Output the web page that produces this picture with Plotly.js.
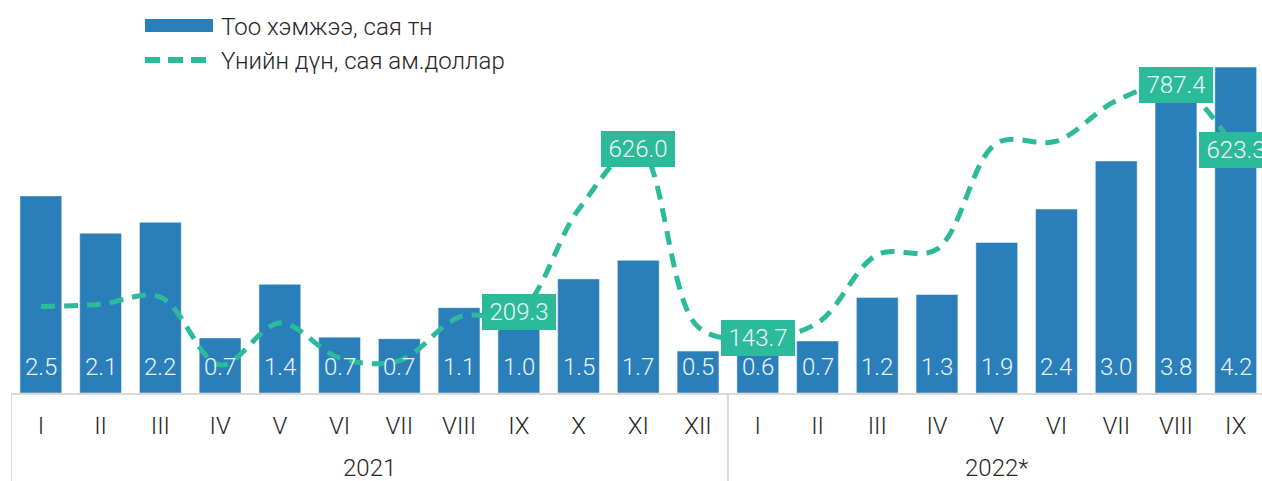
<!DOCTYPE html>
<html>
<head>
<meta charset="utf-8">
<script src="https://cdn.plot.ly/plotly-3.0.1.min.js"></script>
<style>html,body{margin:0;padding:0;background:#fff;}#chart{width:1262px;height:481px;}</style>
</head>
<body>
<div id="chart"></div>
<script>
// ---- data ----
const yearLabels = ['2021', '2022*'];
const months2021 = ['I','II','III','IV','V','VI','VII','VIII','IX','X','XI','XII'];
const months2022 = ['I','II','III','IV','V','VI','VII','VIII','IX'];
const volumeMt = [2.54, 2.06, 2.20, 0.71, 1.40, 0.72, 0.70, 1.10, 1.00, 1.47, 1.71, 0.54,
                  0.60, 0.67, 1.23, 1.27, 1.94, 2.37, 2.99, 3.80, 4.20];
const valueMusd = [224, 230, 248, 75, 182, 93, 86, 197, 209.3, 471, 626.0, 172,
                   143.7, 182, 356, 370, 640, 645, 748, 787.4, 623.3];
const labeledPoints = [8, 10, 12, 19, 20];
const seriesNames = ['Тоо хэмжээ, сая тн', 'Үнийн дүн, сая ам.доллар'];

// ---- build ----
const monthLabels = months2021.concat(months2022);
const xIdx = monthLabels.map((m, i) => i);
const groups = [months2021.length, months2022.length];

const BAR = '#2a7fba';
const LINE = '#2bbb9a';
const GRID = '#d9d9d9';
const TXT = '#262626';
const FONT = 'Roboto, "Open Sans", sans-serif';

const traces = [
  {
    type: 'bar', x: xIdx, y: volumeMt, name: seriesNames[0],
    marker: {color: BAR, line: {color: 'rgba(255,255,255,0.45)', width: 1}},
    hoverinfo: 'none', showlegend: false
  },
  {
    type: 'scatter', mode: 'lines', x: xIdx, y: valueMusd, yaxis: 'y2', name: seriesNames[1],
    line: {color: LINE, width: 5, dash: '14px,9px', shape: 'spline', smoothing: 1},
    hoverinfo: 'none', showlegend: false
  }
];

const annotations = [];
volumeMt.forEach((v, i) => {
  annotations.push({
    x: i, y: 0, xref: 'x', yref: 'y', yshift: 26, showarrow: false,
    text: v.toFixed(1), xanchor: 'center', yanchor: 'middle',
    font: {family: FONT, size: 24, color: '#eef4fa', weight: 300}
  });
});
labeledPoints.forEach(i => {
  annotations.push({
    x: i, y: valueMusd[i], xref: 'x', yref: 'y2', showarrow: false,
    text: valueMusd[i].toFixed(1), xanchor: 'center', yanchor: 'middle',
    bgcolor: LINE, borderpad: 0, borderwidth: 0, width: 74, height: 36,
    font: {family: FONT, size: 24, color: '#f4f4f4', weight: 300}
  });
});

// geometry helpers (plot area in pixels)
const L = 11, W = 1251, H = 393, B = 88;
const px = v => (v - L) / W, py = v => (H - v) / H;

// group dividers and year labels below the month labels
const shapes = [];
let start = 0;
groups.forEach((n, g) => {
  shapes.push({type: 'line', xref: 'x', yref: 'paper', x0: start - 0.5, x1: start - 0.5,
    y0: 0, y1: -B / H, line: {color: GRID, width: 2}});
  annotations.push({xref: 'x', yref: 'paper', x: start + (n - 1) / 2, y: py(468),
    xanchor: 'center', yanchor: 'middle', showarrow: false, text: yearLabels[g],
    font: {family: FONT, size: 24, color: TXT, weight: 300}});
  start += n;
});

// legend (custom, drawn in paper space)
shapes.push({type: 'rect', xref: 'paper', yref: 'paper', x0: px(145), x1: px(213), y0: py(32), y1: py(19),
   fillcolor: BAR, line: {width: 0}});
shapes.push({type: 'line', xref: 'paper', yref: 'paper', x0: px(145), x1: px(208), y0: py(60), y1: py(60),
   line: {color: LINE, width: 6, dash: '15px,8px'}});
annotations.push({xref: 'paper', yref: 'paper', x: px(219), y: py(27), xanchor: 'left', yanchor: 'middle',
  showarrow: false, text: seriesNames[0], font: {family: FONT, size: 24, color: TXT, weight: 300}});
annotations.push({xref: 'paper', yref: 'paper', x: px(219), y: py(61), xanchor: 'left', yanchor: 'middle',
  showarrow: false, text: seriesNames[1], font: {family: FONT, size: 24, color: TXT, weight: 300}});

const layout = {
  width: 1262, height: 481,
  margin: {l: L, r: 0, t: 0, b: B},
  paper_bgcolor: '#fff', plot_bgcolor: '#fff',
  bargap: 0.3,
  showlegend: false,
  font: {family: FONT, size: 24, color: TXT, weight: 300},
  xaxis: {
    range: [-0.5, 20.44], tickvals: xIdx, ticktext: monthLabels,
    showline: true, linecolor: GRID, linewidth: 2,
    ticks: '', ticklabelstandoff: 10, showgrid: false, zeroline: false,
    tickfont: {family: FONT, size: 24, color: TXT, weight: 300}
  },
  yaxis: {range: [0, 5.065], visible: false, showgrid: false, zeroline: false},
  yaxis2: {range: [3.8, 1004.6], overlaying: 'y', visible: false, showgrid: false, zeroline: false},
  shapes: shapes,
  annotations: annotations
};

Plotly.newPlot('chart', traces, layout, {staticPlot: true, displayModeBar: false});
</script>
</body>
</html>
